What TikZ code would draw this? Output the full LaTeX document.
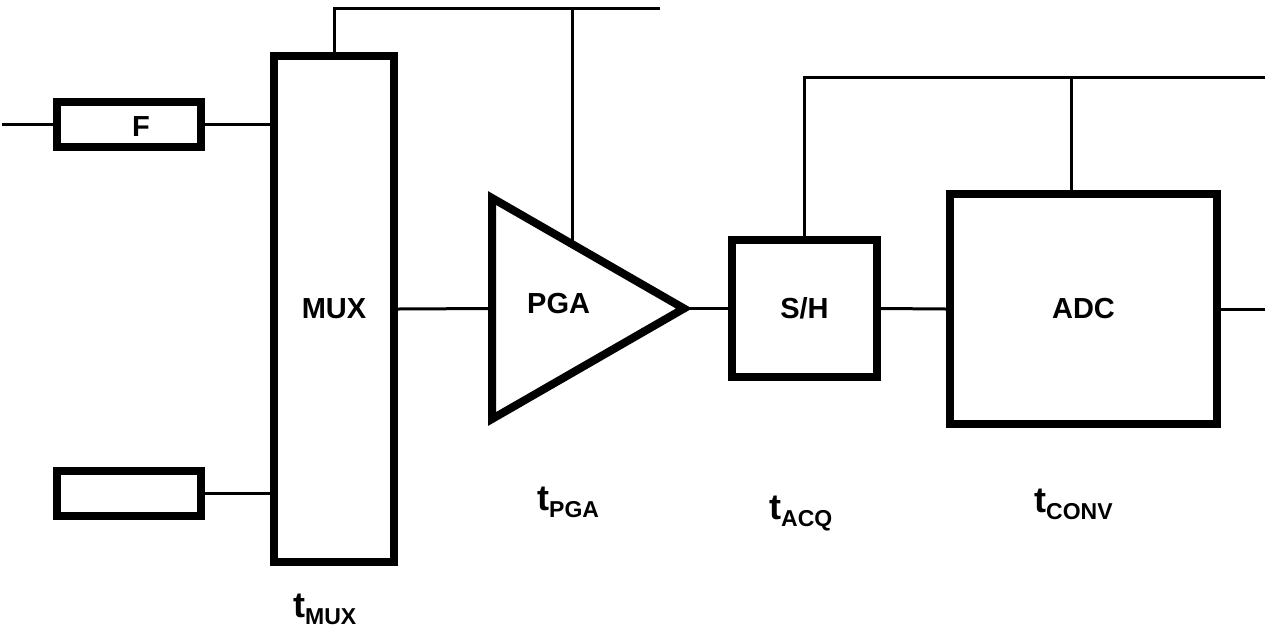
\documentclass[tikz,border=0pt]{standalone}
\usepackage{fontspec}
\setmainfont{Liberation Sans}
\usetikzlibrary{shapes.geometric,positioning,calc}

\newcommand{\blkfont}{\fontsize{29}{31}\selectfont\bfseries}
\newcommand{\tdelay}[1]{{\fontsize{36}{38}\selectfont\bfseries t}\raisebox{-7pt}{\fontsize{23}{25}\selectfont\bfseries #1}}

\begin{document}
\begin{tikzpicture}[x=1pt, y=-1pt,
  blk/.style={draw, rectangle, line width=8pt, inner sep=0pt, font=\blkfont},
  wire/.style={line width=3pt},
  txt/.style={inner sep=0pt, font=\blkfont},
  delay/.style={inner sep=0pt, anchor=base west}
]
\useasboundingbox (0,0) rectangle (1267,630);

% Input filters and multiplexer
\node[blk, minimum width=144pt, minimum height=45pt] (F) at (129,124.5) {};
\node[txt] (Ftxt) at (141,127) {F};
\node[blk, minimum width=144pt, minimum height=45pt] (F2) at (129,493.5) {};
\node[blk, minimum width=120pt, minimum height=506pt] (MUX) at (334,309) {MUX};

% Amplifier, sample/hold and converter
\node[isosceles triangle, draw, line width=8pt, isosceles triangle stretches,
      minimum width=221pt, minimum height=192pt, inner sep=0pt, outer sep=0pt,
      anchor=lower side] (PGA) at (492,308.5) {};
\node[txt, anchor=west] (PGAtxt) at (527,304) {PGA};
\node[blk, minimum width=145pt, minimum height=137pt] (SH) at (804.5,308.5) {S/H};
\node[blk, minimum width=267pt, minimum height=230pt] (ADC) at (1083.5,309) {ADC};

% Free ends of the wires
\coordinate (in1) at (2,124.5);
\coordinate (busA) at (660,8.5);
\coordinate (tapA) at (572,8.5);
\coordinate (pgaTop) at (572,243);
\coordinate (busB) at (1265,77.5);
\coordinate (tapB) at (1071,77.5);
\coordinate (out) at (1265,309);

% Signal path
\draw[wire] (in1) -- (F.west);
\draw[wire] (F.east) -- (F.east -| MUX.west);
\draw[wire] (F2.east) -- (F2.east -| MUX.west);
\draw[wire] (MUX.east) -- (PGA.lower side);
\draw[wire] (PGA.apex) -- (SH.west);
\draw[wire] (SH.east) -- (ADC.west);
\draw[wire] (ADC.east) -- (out);

% Control lines
\draw[wire] (MUX.north) |- (busA);
\draw[wire] (tapA) -- (pgaTop);
\draw[wire] (SH.north) |- (busB);
\draw[wire] (tapB) -- (tapB |- ADC.north);

% Timing labels
\node[delay] (tMUX) at (293,617) {\tdelay{MUX}};
\node[delay] (tPGA) at (537,510) {\tdelay{PGA}};
\node[delay] (tACQ) at (769,519) {\tdelay{ACQ}};
\node[delay] (tCONV) at (1034,512) {\tdelay{CONV}};
\end{tikzpicture}
\end{document}
